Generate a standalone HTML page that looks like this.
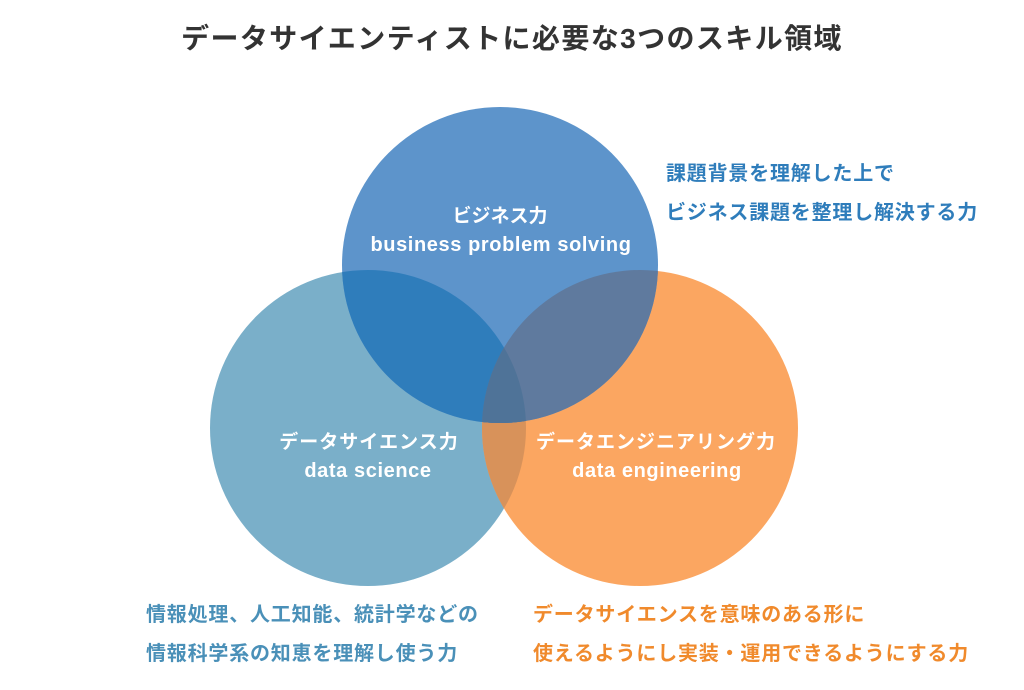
<!DOCTYPE html>
<html><head><meta charset="utf-8"><style>
body{margin:0;background:#fff;}
svg text{font-family:"Liberation Sans","Noto Sans CJK JP",sans-serif;}
</style></head><body>
<svg width="1024" height="685" xmlns="http://www.w3.org/2000/svg">
<defs>
<clipPath id="T"><circle cx="500" cy="265" r="158"/></clipPath>
<clipPath id="L"><circle cx="368" cy="428" r="158"/></clipPath>
<clipPath id="R"><circle cx="640" cy="428" r="158"/></clipPath>
</defs>
<text x="512" y="48" text-anchor="middle" font-size="28" font-weight="bold" fill="#333" letter-spacing="1.4">データサイエンティストに必要な3つのスキル領域</text>
<circle cx="368" cy="428" r="158" fill="#7aafc9"/>
<circle cx="640" cy="428" r="158" fill="#fba661"/>
<circle cx="640" cy="428" r="158" fill="#d8925a" clip-path="url(#L)"/>
<circle cx="500" cy="265" r="158" fill="#5d94cb"/>
<circle cx="368" cy="428" r="158" fill="#2f7dbb" clip-path="url(#T)"/>
<circle cx="640" cy="428" r="158" fill="#5f7a9e" clip-path="url(#T)"/>
<g clip-path="url(#T)"><circle cx="640" cy="428" r="158" fill="#4f7398" clip-path="url(#L)"/></g>
<g fill="#fff" font-size="19" text-anchor="middle" font-weight="bold">
<text x="500" y="222">ビジネス力</text>
<text x="501" y="251" font-size="20" letter-spacing="0.6">business problem solving</text>
<text x="369" y="448" letter-spacing="1">データサイエンス力</text>
<text x="368" y="477" font-size="20" letter-spacing="0.6">data science</text>
<text x="656" y="448" letter-spacing="1">データエンジニアリング力</text>
<text x="657" y="477" font-size="20" letter-spacing="0.6">data engineering</text>
</g>
<g font-size="20" font-weight="bold" letter-spacing="0.8">
<text x="666" y="180" fill="#2f7dbb">課題背景を理解した上で</text>
<text x="666" y="219" fill="#2f7dbb">ビジネス課題を整理し解決する力</text>
<text x="146" y="621" fill="#4a90b8">情報処理、人工知能、統計学などの</text>
<text x="146" y="660" fill="#4a90b8">情報科学系の知恵を理解し使う力</text>
<text x="533" y="621" fill="#f08a2c">データサイエンスを意味のある形に</text>
<text x="533" y="660" fill="#f08a2c">使えるようにし実装・運用できるようにする力</text>
</g>
</svg>
</body></html>
